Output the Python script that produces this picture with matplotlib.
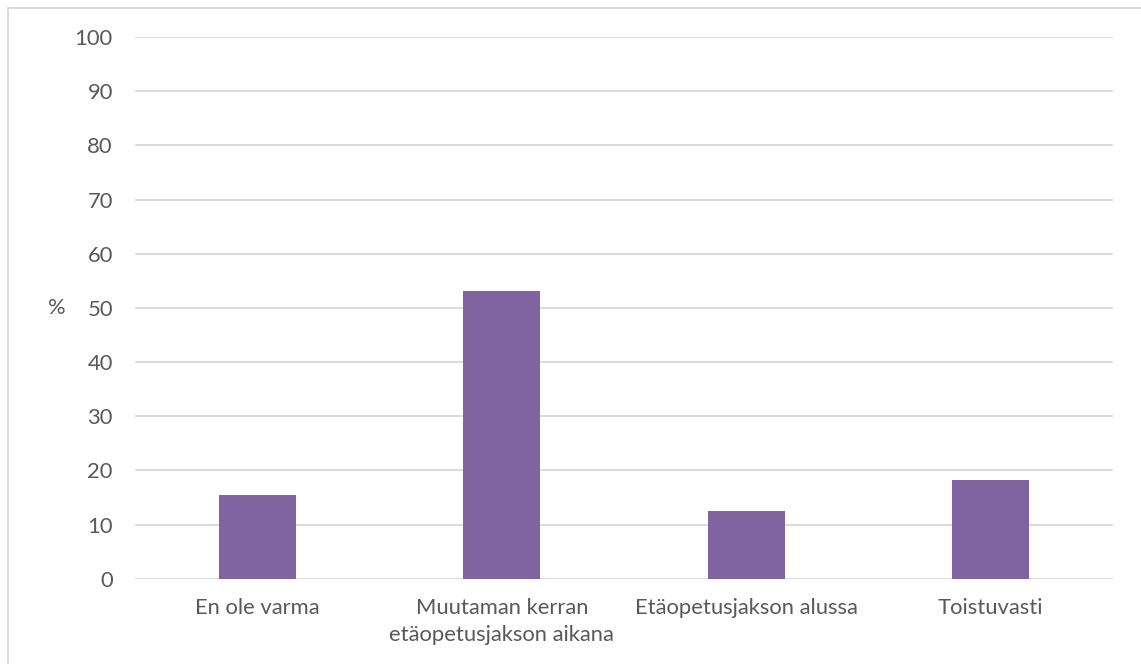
import numpy as np
import matplotlib.pyplot as plt
from matplotlib.patches import Rectangle

# data
categories = ['En ole varma', 'Muutaman kerran\netäopetusjakson aikana',
              'Etäopetusjakson alussa', 'Toistuvasti']
values = [15.4, 53.2, 12.5, 18.3]
yticks = [0, 10, 20, 30, 40, 50, 60, 70, 80, 90, 100]

plt.rcParams['font.family'] = ['Lato', 'DejaVu Sans']
txt = '#595959'
fs = 15.8

fig = plt.figure(figsize=(11.41, 6.64), dpi=100)
ax = fig.add_axes([135/1141, 1 - 578.7/664, (1113 - 135)/1141, (578.7 - 37)/664])

x = np.arange(len(categories))
ax.bar(x, values, width=0.315, color='#8064a2', zorder=3)

ax.set_ylim(0, 100)
ax.set_xlim(-0.5, len(categories) - 0.5)
ax.set_yticks(yticks)
ax.set_xticks(x)
ax.set_xticklabels(categories, linespacing=1.45)
ax.yaxis.grid(True, color='#d9d9d9', linewidth=1.3, zorder=0)
ax.tick_params(axis='both', length=0, labelsize=fs, colors=txt)
ax.tick_params(axis='y', pad=16)
ax.tick_params(axis='x', pad=14)
for s in ax.spines.values():
    s.set_visible(False)

ax.set_ylabel('%', rotation=0, fontsize=fs, color=txt, va='center')
ax.yaxis.set_label_coords(-0.08, 0.5)

# chart area border (runs off the right/bottom edge)
fig.patches.append(Rectangle((8/1141, -0.05), 1.1, 1 - 8/664 + 0.05, transform=fig.transFigure,
                             fill=False, edgecolor='#d9d9d9', linewidth=1.3))

fig.savefig('out.png', dpi=100)
